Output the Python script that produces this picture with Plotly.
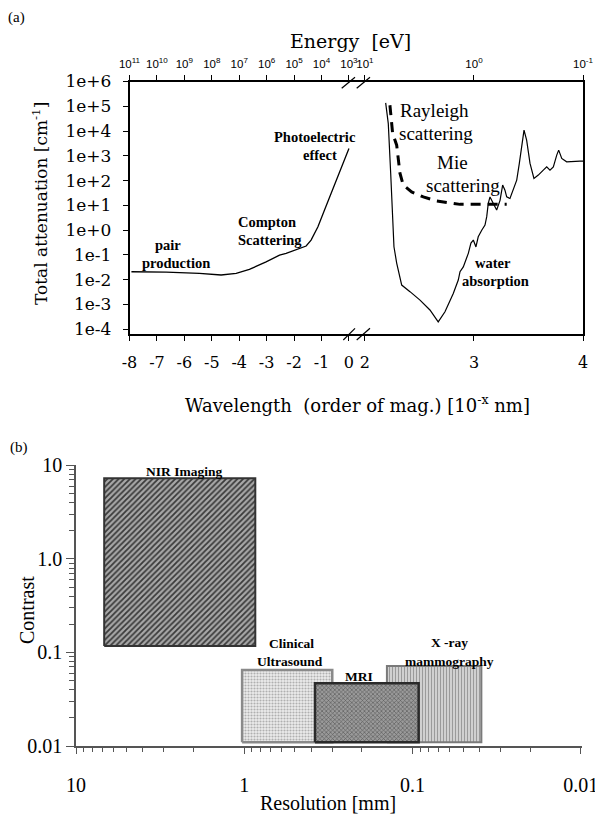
import plotly.graph_objects as go

W, H = 595, 817

# ---------------- Panel (a) data ----------------
# high-energy attenuation (pair production / Compton / photoelectric)
hi_wl = [-7.93, -6.66, -5.45, -4.66, -4.11, -3.63, -3.02, -2.53, -2.29, -1.92,
         -1.80, -1.56, -1.38, -1.13, -0.89, -0.65, -0.41, -0.16, 0.0]
hi_att = [0.021, 0.0204, 0.018, 0.0155, 0.018, 0.026, 0.053, 0.099, 0.116, 0.168,
          0.185, 0.23, 0.40, 1.37, 6.5, 30, 142, 671, 1990]

# water absorption (UV - IR)
water_wl = [2.190, 2.214, 2.236, 2.254, 2.266, 2.291, 2.337, 2.413, 2.505, 2.596,
            2.672, 2.734, 2.810, 2.856, 2.872, 2.902, 2.948, 2.972, 2.994, 3.018,
            3.039, 3.071, 3.101, 3.117, 3.131, 3.147, 3.177, 3.208, 3.239, 3.263,
            3.284, 3.300, 3.330, 3.361, 3.392, 3.416, 3.438, 3.459, 3.483, 3.514,
            3.550, 3.590, 3.636, 3.667, 3.697, 3.728, 3.759, 3.777, 3.805, 3.850,
            3.972, 4.0]
water_att = [1.37e5, 2.0e4, 200, 1.93, 0.214, 0.047, 0.0061, 0.0033, 0.0015, 6.0e-4,
             2.0e-4, 5.1e-4, 0.0028, 0.0097, 0.021, 0.033, 0.116, 0.30, 0.40, 0.21,
             0.54, 1.0, 1.6, 3.5, 12, 22, 12, 6.5, 16, 66,
             41, 22, 19, 41, 105, 494, 3160, 1.09e4, 4300, 494,
             123, 167, 265, 360, 265, 360, 1070, 1700, 785, 573,
             611, 611]

# Rayleigh / Mie scattering (dashed)
scat_wl = [2.229, 2.254, 2.291, 2.321, 2.351, 2.428, 2.535, 2.658, 2.872, 3.300]
scat_att = [1.1e5, 8000, 2700, 200, 66, 35, 22, 15, 11, 11]

att_ticks = [1e6, 1e5, 1e4, 1e3, 1e2, 1e1, 1e0, 1e-1, 1e-2, 1e-3, 1e-4]
att_labels = ["1e+6", "1e+5", "1e+4", "1e+3", "1e+2", "1e+1", "1e+0",
              "1e-1", "1e-2", "1e-3", "1e-4"]
wl_ticks_left = [-8, -7, -6, -5, -4, -3, -2, -1, 0]
wl_ticks_right = [2, 3, 4]
energy_left = ["10<sup>11</sup>", "10<sup>10</sup>", "10<sup>9</sup>", "10<sup>8</sup>",
               "10<sup>7</sup>", "10<sup>6</sup>", "10<sup>5</sup>", "10<sup>4</sup>",
               "10<sup>3</sup>"]
energy_right = ["10<sup>1</sup>", "10<sup>0</sup>", "10<sup>-1</sup>"]

# ---------------- Panel (b) data ----------------
modalities = ["NIR Imaging", "Clinical Ultrasound", "X -ray mammography", "MRI"]
res_coarse = [6.8, 1.03, 0.142, 0.38]     # mm
res_fine = [0.86, 0.30, 0.039, 0.092]     # mm
con_low = [0.117, 0.011, 0.011, 0.011]
con_high = [7.3, 0.065, 0.0716, 0.047]
res_ticks = [10, 1, 0.1, 0.01]
res_labels = ["10", "1", "0.1", "0.01"]
con_ticks = [10, 1, 0.1, 0.01]
con_labels = ["10", "1.0", "0.1", "0.01"]

styles = [
    dict(shape="/", bg="#a8a8a8", fg="#3a3a3a", size=4, sol=0.45, line="#333333", lw=2),
    dict(shape=".", bg="#ececec", fg="#b0b0b0", size=3, sol=0.4, line="#8a8a8a", lw=2.5),
    dict(shape="|", bg="#d0d0d0", fg="#9a9a9a", size=3, sol=0.35, line="#7a7a7a", lw=2),
    dict(shape="x", bg="#9a9a9a", fg="#555555", size=3, sol=0.35, line="#2a2a2a", lw=2.5),
]


def fx(p):
    return p / W


def fy(p):
    return 1 - p / H


fig = go.Figure()

fig.add_trace(go.Scatter(x=hi_wl, y=hi_att, xaxis="x", yaxis="y", mode="lines",
                         line=dict(color="black", width=1.3), showlegend=False,
                         hoverinfo="skip"))
fig.add_trace(go.Scatter(x=scat_wl, y=scat_att, xaxis="x2", yaxis="y2", mode="lines",
                         line=dict(color="black", width=3, dash="10px,7px"),
                         showlegend=False, hoverinfo="skip"))
fig.add_trace(go.Scatter(x=water_wl, y=water_att, xaxis="x2", yaxis="y2", mode="lines",
                         line=dict(color="black", width=1.2), showlegend=False,
                         hoverinfo="skip"))
# empty traces so the top (energy) axes are drawn
fig.add_trace(go.Scatter(x=wl_ticks_left, y=[None] * len(wl_ticks_left),
                         xaxis="x3", yaxis="y", mode="lines", showlegend=False,
                         hoverinfo="skip"))
fig.add_trace(go.Scatter(x=wl_ticks_right, y=[None] * len(wl_ticks_right),
                         xaxis="x4", yaxis="y2", mode="lines", showlegend=False,
                         hoverinfo="skip"))

for i, name in enumerate(modalities):
    s = styles[i]
    x0, x1 = res_coarse[i], res_fine[i]
    y0, y1 = con_low[i], con_high[i]
    fig.add_trace(go.Scatter(
        x=[x0, x1, x1, x0, x0], y=[y0, y0, y1, y1, y0],
        xaxis="x5", yaxis="y3", mode="lines", fill="toself",
        fillcolor=s["bg"],
        fillpattern=dict(shape=s["shape"], bgcolor=s["bg"], fgcolor=s["fg"],
                         size=s["size"], solidity=s["sol"], fillmode="replace"),
        line=dict(color=s["line"], width=s["lw"]), showlegend=False,
        hoverinfo="skip", name=name))

serif_a = "DejaVu Serif"
times = "Liberation Serif"

xl_dom = [fx(129.5), fx(357)]
xr_dom = [fx(357), fx(583)]
xl_range = [-8, 0.294]
xr_range = [1.927, 4]
ya_dom = [fy(334), fy(81.5)]
ya_range = [-4.19, 6.0]

common_a = dict(showline=True, linecolor="black", linewidth=1.5, ticks="outside",
                ticklen=5, tickwidth=1.3, tickcolor="black", showgrid=False,
                zeroline=False, automargin=False, ticklabeloverflow="allow")

fig.update_layout(
    width=W, height=H, margin=dict(l=0, r=0, t=0, b=0),
    paper_bgcolor="white", plot_bgcolor="white", showlegend=False,
    xaxis=dict(domain=xl_dom, range=xl_range, anchor="y", tickmode="array",
               tickvals=wl_ticks_left, ticktext=[str(v) for v in wl_ticks_left],
               tickfont=dict(family=serif_a, size=16, color="black"),
               ticklabelstandoff=8, **common_a),
    xaxis2=dict(domain=xr_dom, range=xr_range, anchor="y2", tickmode="array",
                tickvals=wl_ticks_right, ticktext=[str(v) for v in wl_ticks_right],
                tickfont=dict(family=serif_a, size=16, color="black"),
                ticklabelstandoff=8, **common_a),
    xaxis3=dict(overlaying="x", side="top", anchor="y", range=xl_range,
                autorange=False, tickmode="array", tickvals=wl_ticks_left,
                ticktext=energy_left,
                tickfont=dict(family="Liberation Sans", size=11.5, color="black"),
                ticklabelstandoff=2, **common_a),
    xaxis4=dict(overlaying="x2", side="top", anchor="y2", range=xr_range,
                autorange=False, tickmode="array", tickvals=wl_ticks_right,
                ticktext=energy_right,
                tickfont=dict(family="Liberation Sans", size=11.5, color="black"),
                ticklabelstandoff=2, **common_a),
    yaxis=dict(domain=ya_dom, type="log", range=ya_range, anchor="x",
               tickmode="array", tickvals=att_ticks, ticktext=att_labels,
               tickfont=dict(family=serif_a, size=17, color="black"),
               ticklabelstandoff=8, **common_a),
    yaxis2=dict(domain=ya_dom, type="log", range=ya_range, anchor="x2",
                side="right", showline=True, linecolor="black",
                linewidth=1.5, ticks="", showticklabels=False, showgrid=False,
                zeroline=False, automargin=False),
    xaxis5=dict(domain=[fx(76), fx(582)], type="log", range=[1, -2.007], anchor="y3",
                tickmode="array", tickvals=res_ticks, ticktext=res_labels,
                tickfont=dict(family=times, size=20, color="black"),
                showline=True, linecolor="#555555", linewidth=1.5, ticks="outside",
                ticklen=6, tickwidth=1.3, tickcolor="#555555", showgrid=False,
                zeroline=False, automargin=False, ticklabelstandoff=14,
                ticklabeloverflow="allow",
                minor=dict(ticks="outside", ticklen=4, tickwidth=1.1,
                           tickcolor="#555555", showgrid=False, tickmode="array",
                           tickvals=[k * m for m in (0.01, 0.1, 1) for k in range(2, 10)])),
    yaxis3=dict(domain=[fy(746), fy(465)], type="log", range=[-2, 1.005], anchor="x5",
                tickmode="array", tickvals=con_ticks, ticktext=con_labels,
                tickfont=dict(family=times, size=20, color="black"),
                showline=True, linecolor="#555555", linewidth=1.5, ticks="outside",
                ticklen=8, tickwidth=1.3, tickcolor="#555555", showgrid=False,
                zeroline=False, automargin=False, ticklabeloverflow="allow",
                minor=dict(ticks="outside", ticklen=5, tickwidth=1.1,
                           tickcolor="#555555", showgrid=False, tickmode="array",
                           tickvals=[k * m for m in (0.01, 0.1, 1) for k in range(2, 10)])),
)

# axis breaks
for (xa, ya, xb, yb) in [(341.7, 88.3, 355, 77.3), (356.7, 88.3, 370, 77.3),
                         (343.3, 340, 355, 328.3), (356.7, 340, 370, 328.3)]:
    fig.add_shape(type="line", xref="paper", yref="paper",
                  x0=fx(xa), y0=fy(ya), x1=fx(xb), y1=fy(yb),
                  line=dict(color="black", width=1.2))


def ann(text, x, y, size, family, xanchor="center", angle=0, bold=False):
    if bold:
        text = "<b>" + text + "</b>"
    fig.add_annotation(text=text, x=fx(x), y=fy(y), xref="paper", yref="paper",
                       xanchor=xanchor, yanchor="middle", showarrow=False,
                       textangle=angle,
                       font=dict(family=family, size=size, color="black"))


# panel labels and titles
ann("(a)", 16, 17, 15, times)
ann("(b)", 19, 447, 15, times)
ann("Energy\u00a0\u00a0[eV]", 350, 41, 19, serif_a)
ann("Wavelength\u00a0\u00a0(order of mag.) [10<sup>-x</sup> nm]", 357, 404, 18, serif_a)
ann("Total attenuation [cm<sup>-1</sup>]", 40, 204, 17, serif_a, angle=-90)
ann("Contrast", 27, 610, 20, times, angle=-90)
ann("Resolution [mm]", 328, 803, 20, times)

# panel (a) region labels
ann("pair", 168, 245, 14.5, times, bold=True)
ann("production", 176, 263, 14.5, times, bold=True)
ann("Compton", 267, 222, 14.5, times, bold=True)
ann("Scattering", 270, 240, 14.5, times, bold=True)
ann("Photoelectric", 315, 137, 14.5, times, bold=True)
ann("effect", 319.5, 155, 14.5, times, bold=True)
ann("water", 493, 263, 14.5, times, bold=True)
ann("absorption", 495, 281, 14.5, times, bold=True)
ann("Rayleigh", 398, 110, 19, times, xanchor="left")
ann("scattering", 397, 133, 19, times, xanchor="left")
ann("Mie", 452, 162, 19, times)
ann("scattering", 462.5, 185, 19, times)

# panel (b) box labels
ann("NIR Imaging", 183.5, 472, 13.5, times, bold=True)
ann("Clinical", 291, 643, 13.5, times, bold=True)
ann("Ultrasound", 290, 661, 13.5, times, bold=True)
ann("MRI", 359, 676, 13.5, times, bold=True)
ann("X -ray", 449, 642, 13.5, times, bold=True)
ann("mammography", 449, 661, 13.5, times, bold=True)

fig.write_html("out.html")
